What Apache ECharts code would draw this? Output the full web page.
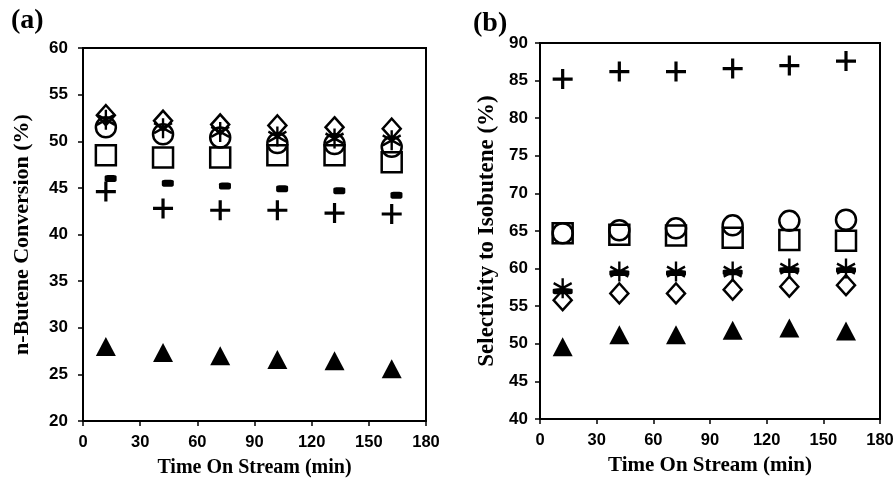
<!DOCTYPE html>
<html>
<head>
<meta charset="utf-8">
<script src="https://cdn.jsdelivr.net/npm/echarts@6/dist/echarts.min.js"></script>
<style>
  html, body { margin: 0; padding: 0; background: #fff; }
  #main { width: 896px; height: 479px; }
</style>
</head>
<body>
<div id="main"></div>
<script>
// 取样时间 (min)
var timeOnStream = [12, 42, 72, 102, 132, 162];
var timeDash = [14.5, 44.5, 74.5, 104.5, 134.5, 164.5];
var xTicks = [0, 30, 60, 90, 120, 150, 180];

// (a) n-Butene conversion (%)
var convDiamond = [52.8, 52.2, 51.8, 51.7, 51.5, 51.35];
var convCircle = [51.5, 50.75, 50.4, 49.8, 49.7, 49.4];
var convStar = [52.3, 51.4, 51.0, 50.5, 50.3, 50.1];
var convSquare = [48.5, 48.25, 48.25, 48.5, 48.5, 47.75];
var convDash = [46.0, 45.5, 45.2, 44.9, 44.7, 44.2];
var convPlus = [44.6, 42.8, 42.6, 42.6, 42.3, 42.2];
var convTriangle = [28.0, 27.35, 27.0, 26.6, 26.45, 25.6];

// (b) selectivity to isobutene (%)
var selPlus = [85.2, 86.2, 86.2, 86.6, 87.0, 87.6];
var selCircle = [64.7, 65.1, 65.35, 65.75, 66.35, 66.5];
var selSquare = [64.7, 64.5, 64.4, 64.1, 63.8, 63.7];
var selStar = [57.4, 59.6, 59.6, 59.6, 60.0, 60.0];
var selDash = [57.0, 59.4, 59.4, 59.5, 59.8, 59.8];
var selDiamond = [55.8, 56.7, 56.7, 57.2, 57.6, 57.8];
var selTriangle = [49.6, 51.2, 51.2, 51.8, 52.1, 51.7];

var plusPath = 'path://M-1.6,-10H1.6V-1.6H10V1.6H1.6V10H-1.6V1.6H-10V-1.6H-1.6Z';
var starPath = 'path://M0,-10L0,10M-8.66,-5L8.66,5M-8.66,5L8.66,-5';

var myChart = echarts.init(document.getElementById('main'));

function pairs(xs, ys) {
    return ys.map(function (v, i) { return [xs[i], v]; });
}

function makeX(idx, gap, nameSize) {
    return {
        type: 'value', gridIndex: idx, min: 0, max: 180, interval: 30,
        name: 'Time On Stream (min)', nameLocation: 'middle', nameGap: gap,
        nameTextStyle: { fontFamily: 'Liberation Serif', fontWeight: 'bold', fontSize: nameSize, color: '#000' },
        axisLine: { lineStyle: { color: '#000', width: 2 } },
        axisTick: { show: true, length: 5, lineStyle: { color: '#000', width: 1.5 } },
        axisLabel: { fontFamily: 'Liberation Sans', fontWeight: 'bold', fontSize: 16.5, color: '#000', margin: 13 },
        splitLine: { show: false }
    };
}

function makeY(idx, min, max, name, gap, nameSize, labelMargin) {
    return {
        type: 'value', gridIndex: idx, min: min, max: max, interval: 5,
        name: name, nameLocation: 'middle', nameGap: gap, nameRotate: 90,
        nameTextStyle: { fontFamily: 'Liberation Serif', fontWeight: 'bold', fontSize: nameSize, color: '#000' },
        axisLine: { lineStyle: { color: '#000', width: 2 } },
        axisTick: { show: true, length: 5, lineStyle: { color: '#000', width: 1.5 } },
        axisLabel: { fontFamily: 'Liberation Sans', fontWeight: 'bold', fontSize: 17, color: '#000', margin: labelMargin },
        splitLine: { show: false }
    };
}

function openSeries(idx, xs, ys, symbol, size) {
    return {
        type: 'scatter', xAxisIndex: idx, yAxisIndex: idx,
        data: pairs(xs, ys), symbol: symbol, symbolSize: size,
        itemStyle: { color: 'rgba(0,0,0,0)', borderColor: '#000', borderWidth: 2.5, opacity: 1 },
        silent: true
    };
}

function filledSeries(idx, xs, ys, symbol, size) {
    return {
        type: 'scatter', xAxisIndex: idx, yAxisIndex: idx,
        data: pairs(xs, ys), symbol: symbol, symbolSize: size,
        itemStyle: { color: '#000', opacity: 1 },
        silent: true
    };
}

function starSeries(idx, xs, ys) {
    return {
        type: 'scatter', xAxisIndex: idx, yAxisIndex: idx,
        data: pairs(xs, ys), symbol: starPath, symbolSize: [18, 20],
        itemStyle: { color: '#000', borderColor: '#000', borderWidth: 2.5, opacity: 1 },
        silent: true
    };
}

var option = {
    animation: false,
    backgroundColor: '#fff',
    title: [
        { text: '(a)', left: 6, top: 2, textStyle: { fontFamily: 'Liberation Serif', fontWeight: 'bold', fontSize: 28, color: '#000' } },
        { text: '(b)', left: 468, top: 5, textStyle: { fontFamily: 'Liberation Serif', fontWeight: 'bold', fontSize: 28, color: '#000' } }
    ],
    grid: [
        { left: 83, top: 48, width: 343, height: 373, outerBoundsMode: 'none', show: true, borderColor: '#000', borderWidth: 2, backgroundColor: 'transparent' },
        { left: 540, top: 43, width: 340, height: 376, outerBoundsMode: 'none', show: true, borderColor: '#000', borderWidth: 2, backgroundColor: 'transparent' }
    ],
    xAxis: [makeX(0, 37, 20), makeX(1, 36, 21)],
    yAxis: [
        makeY(0, 20, 60, 'n-Butene Conversion (%)', 50, 22, 15),
        makeY(1, 40, 90, 'Selectivity to Isobutene (%)', 41, 23, 12)
    ],
    series: [
        openSeries(0, timeOnStream, convDiamond, 'diamond', [18, 20]),
        openSeries(0, timeOnStream, convCircle, 'circle', 20),
        starSeries(0, timeOnStream, convStar),
        openSeries(0, timeOnStream, convSquare, 'rect', 20),
        filledSeries(0, timeDash, convDash, 'roundRect', [12, 7]),
        filledSeries(0, timeOnStream, convPlus, plusPath, 20),
        filledSeries(0, timeOnStream, convTriangle, 'triangle', [20, 19]),

        filledSeries(1, timeOnStream, selPlus, plusPath, 20),
        openSeries(1, timeOnStream, selCircle, 'circle', 20),
        openSeries(1, timeOnStream, selSquare, 'rect', 20),
        starSeries(1, timeOnStream, selStar),
        filledSeries(1, timeOnStream, selDash, 'roundRect', [20, 6]),
        openSeries(1, timeOnStream, selDiamond, 'diamond', [18, 20]),
        filledSeries(1, timeOnStream, selTriangle, 'triangle', [20, 19])
    ]
};

myChart.setOption(option);
</script>
</body>
</html>
